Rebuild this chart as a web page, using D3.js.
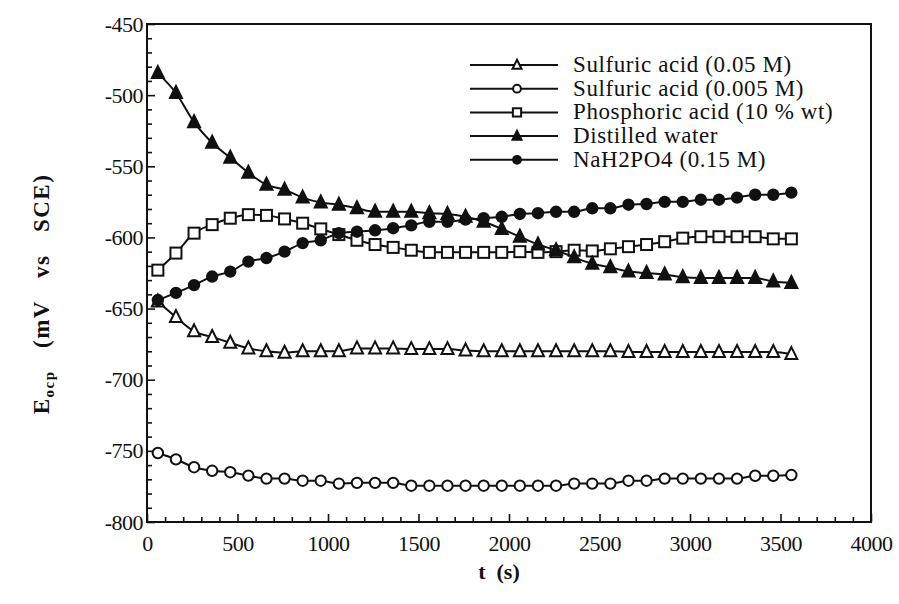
<!DOCTYPE html>
<html>
<head>
<meta charset="utf-8">
<script src="https://cdn.jsdelivr.net/npm/d3@7"></script>
<style>
  body { margin: 0; background: #fff; }
  text { font-family: "Liberation Serif", "DejaVu Serif", serif; fill: #111; }
</style>
</head>
<body>
<div id="chart"></div>
<script>
// time points (s), same for every series
var times = [60, 160, 260, 360, 460, 560, 660, 760, 860, 960,
             1060, 1160, 1260, 1360, 1460, 1560, 1660, 1760, 1860, 1960,
             2060, 2160, 2260, 2360, 2460, 2560, 2660, 2760, 2860, 2960,
             3060, 3160, 3260, 3360, 3460, 3560];

// E ocp values (mV vs SCE)
var sulfuric005 = [-645, -656, -666, -670, -674, -678, -680, -681, -680, -680,
                   -680, -678, -678, -678, -678.5, -678.5, -678.5, -679.5, -680, -680,
                   -680, -680, -680, -680, -680, -680, -680.5, -680.5, -680.5, -680.5,
                   -680.5, -680.5, -680.5, -680.5, -680.5, -682];
var sulfuric0005 = [-751.5, -756, -761.5, -764, -765, -767.4, -769.5, -769.5, -771, -771,
                    -773, -772.5, -772.5, -772.5, -774.5, -774.5, -774.5, -774.5, -774.5, -774.5,
                    -774.5, -774.5, -774.5, -773, -773, -773, -771, -771, -769.5, -769.5,
                    -769.5, -769.5, -769.5, -767.5, -767.5, -767];
var phosphoric = [-623, -611, -597, -591, -586.5, -584, -584.5, -587, -590, -594,
                  -598, -602, -605, -607, -609, -610.5, -610.5, -610.5, -610.5, -610.5,
                  -610, -610.5, -610, -609, -609.5, -608, -606.5, -605, -603, -600.5,
                  -599.5, -599.5, -599.5, -599.5, -601, -601];
var distilled = [-484.5, -498.5, -519, -533.5, -544, -554.5, -563, -566.5, -572, -575.5,
                 -577, -579.5, -582, -582, -582, -583, -583.5, -585.5, -589, -594,
                 -599.5, -605, -609, -614, -618.5, -621, -624, -625, -626, -628,
                 -628.5, -628.5, -628.5, -628.5, -631, -632];
var nah2po4 = [-644, -639, -633.5, -627.5, -624, -617, -614.5, -610, -604, -602,
               -597, -596, -595, -593.5, -591.5, -589, -589, -587.5, -586.5, -585.5,
               -583.5, -583, -582, -582, -579.5, -579.5, -577, -576.5, -575, -575,
               -573.5, -573.5, -572, -570, -570, -568.5];

var seriesNames = ["Sulfuric acid (0.05 M)", "Sulfuric acid (0.005 M)",
                   "Phosphoric acid (10 % wt)", "Distilled water", "NaH2PO4 (0.15 M)"];
var seriesValues = [sulfuric005, sulfuric0005, phosphoric, distilled, nah2po4];
var seriesMarkers = ["triangleOpen", "circleOpen", "squareOpen", "triangleFilled", "circleFilled"];

var xTicks = [0, 500, 1000, 1500, 2000, 2500, 3000, 3500, 4000];
var yTicks = [-450, -500, -550, -600, -650, -700, -750, -800];

// set the dimensions and margins of the graph
var margin = {top: 24, right: 28, bottom: 82, left: 147},
    width = 899 - margin.left - margin.right,
    height = 604 - margin.top - margin.bottom;

var svg = d3.select("#chart")
  .append("svg")
    .attr("width", width + margin.left + margin.right)
    .attr("height", height + margin.top + margin.bottom)
  .append("g")
    .attr("transform", "translate(" + margin.left + "," + margin.top + ")");

var x = d3.scaleLinear().domain([0, 4000]).range([0, width]);
var y = d3.scaleLinear().domain([-800, -450]).range([height, 0]);

// frame
svg.append("rect")
  .attr("x", 0).attr("y", 0)
  .attr("width", width).attr("height", height)
  .attr("fill", "none")
  .attr("stroke", "#111")
  .attr("stroke-width", 2);

// inward ticks, minor + major
var xAxis = svg.append("g").attr("transform", "translate(0," + height + ")");
xAxis.call(d3.axisBottom(x).tickValues(d3.range(0, 4001, 100)).tickSizeInner(-5).tickSizeOuter(0).tickFormat(""));
xAxis.call(function(g) {
  g.select(".domain").remove();
  g.selectAll(".tick line")
    .attr("y2", function(d) { return d % 500 === 0 ? -8 : -5; })
    .attr("stroke", "#111").attr("stroke-width", 1.6);
});
svg.append("g").attr("transform", "translate(0," + height + ")")
  .call(d3.axisBottom(x).tickValues(xTicks).tickSize(0).tickPadding(13)
    .tickFormat(function(d) { return String(d); }))
  .call(function(g) {
    g.select(".domain").remove();
    g.selectAll("text").style("font-size", "22px").style("letter-spacing", "-0.5px");
  });

var yAxis = svg.append("g");
yAxis.call(d3.axisLeft(y).tickValues(d3.range(-800, -449, 10)).tickSizeInner(-5).tickSizeOuter(0).tickFormat(""));
yAxis.call(function(g) {
  g.select(".domain").remove();
  g.selectAll(".tick line")
    .attr("x2", function(d) { return d % 50 === 0 ? 8 : 5; })
    .attr("stroke", "#111").attr("stroke-width", 1.6);
});
svg.append("g")
  .call(d3.axisLeft(y).tickValues(yTicks).tickSize(0).tickPadding(4)
    .tickFormat(function(d) { return String(d); }))
  .call(function(g) {
    g.select(".domain").remove();
    g.selectAll("text").style("font-size", "22px").style("letter-spacing", "-0.5px");
  });

// axis titles
svg.append("text")
  .attr("x", width / 2 - 10)
  .attr("y", height + 57)
  .attr("text-anchor", "middle")
  .style("font-size", "22px")
  .style("font-weight", "bold")
  .style("white-space", "pre")
  .text("t  (s)");

var yTitle = svg.append("text")
  .attr("transform", "translate(" + (-98) + "," + 270 + ") rotate(-90)")
  .attr("text-anchor", "middle")
  .style("font-size", "23px")
  .style("font-weight", "bold")
  .style("letter-spacing", "1.5px")
  .style("word-spacing", "4px")
  .style("white-space", "pre");
yTitle.append("tspan").text("E");
yTitle.append("tspan").attr("dy", 5).style("font-size", "15px").text("ocp");
yTitle.append("tspan").attr("dy", -5).text("  (mV  vs  SCE)");

// marker drawing
function drawMarker(sel, type, k) {
  var s = 6 * k;
  if (type === "circleOpen" || type === "circleFilled") {
    sel.append("circle").attr("r", 5.2 * k)
      .attr("fill", type === "circleFilled" ? "#111" : "#fff");
  } else if (type === "squareOpen") {
    sel.append("rect").attr("x", -5.5 * k).attr("y", -5.5 * k).attr("width", 11 * k).attr("height", 11 * k)
      .attr("fill", "#fff");
  } else {
    sel.append("path")
      .attr("d", "M0," + (-s - k) + "L" + s + "," + (s - k) + "L" + (-s) + "," + (s - k) + "Z")
      .attr("fill", type === "triangleFilled" ? "#111" : "#fff");
  }
  sel.selectAll("*").attr("stroke", "#111").attr("stroke-width", 2);
}

var line = d3.line()
  .x(function(d) { return x(d[0]); })
  .y(function(d) { return y(d[1]); })
  .curve(d3.curveMonotoneX);

seriesValues.forEach(function(vals, i) {
  var pts = times.map(function(t, j) { return [t, vals[j]]; });
  svg.append("path")
    .datum(pts)
    .attr("d", line)
    .attr("fill", "none")
    .attr("stroke", "#111")
    .attr("stroke-width", 2);
  svg.append("g").selectAll("g")
    .data(pts)
    .enter().append("g")
      .attr("transform", function(d) { return "translate(" + x(d[0]) + "," + y(d[1]) + ")"; })
      .each(function() { drawMarker(d3.select(this), seriesMarkers[i], 1); });
});

// legend
var legend = svg.append("g").attr("transform", "translate(" + (470 - margin.left) + "," + (65 - margin.top) + ")");
seriesNames.forEach(function(name, i) {
  var row = legend.append("g").attr("transform", "translate(0," + (i * 23.7) + ")");
  row.append("line").attr("x1", 0).attr("x2", 88).attr("y1", 0).attr("y2", 0)
    .attr("stroke", "#111").attr("stroke-width", 2);
  drawMarker(row.append("g").attr("transform", "translate(47,0)"), seriesMarkers[i], 0.75);
  row.append("text")
    .attr("x", 103).attr("y", 7)
    .style("font-size", "23px")
    .style("letter-spacing", "0.6px")
    .text(name);
});
</script>
</body>
</html>
